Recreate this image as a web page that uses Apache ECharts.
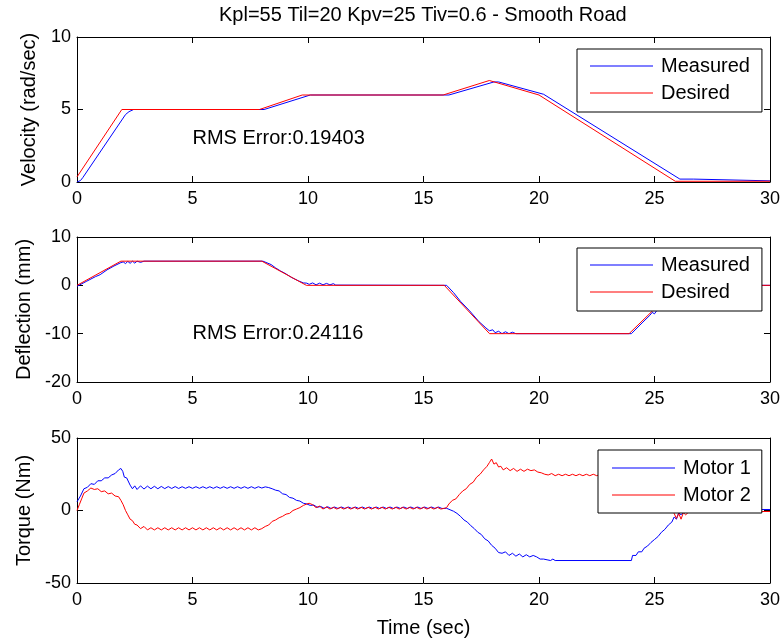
<!DOCTYPE html>
<html>
<head>
<meta charset="utf-8">
<script src="https://cdn.jsdelivr.net/npm/echarts@6/dist/echarts.min.js"></script>
<style>
  html, body { margin: 0; padding: 0; background: #fff; }
  #chart { width: 783px; height: 643px; }
</style>
</head>
<body>
<div id="chart"></div>
<script>
// ---- data: [time (s), value] ----
const velocityMeasured = [[0,0],[0.15,0.1],[0.25,0.3],[2.1,4.65],[2.25,4.85],[2.45,5],[8.1,5],[10.1,6],[16.1,6],[18.05,6.9],[18.25,6.9],[20.2,6.05],[26.1,0.2],[26.7,0.2],[26.75,0.08],[30,0.08]];
const velocityDesired = [[0,0.35],[1.94,5],[7.9,5],[9.75,6],[15.85,6],[17.85,7],[20,6.0],[25.9,0.05],[30,0.05]];

const deflectionMeasured = [[0,-0.2],[0.4,0.8],[0.8,1.8],[1.0,2.2],[1.3,3.2],[1.6,4.0],[1.9,4.7],[2.0,4.85],[2.1,4.5],[2.2,4.95],[2.3,4.55],[2.4,5],[2.5,4.6],[2.6,5],[2.75,4.75],[2.9,5],[8.05,5],[8.4,4.3],[8.6,3.6],[8.8,3.0],[9.0,2.5],[9.3,1.6],[9.6,0.9],[9.8,0.5],[9.95,0.45],[10.05,0.2],[10.2,0.5],[10.35,0.1],[10.5,0.45],[10.65,0.1],[10.8,0.4],[10.95,0.1],[11.1,0.35],[11.2,0.05],[16.0,0],[16.3,-1.5],[16.6,-3.3],[17.0,-5.3],[17.4,-7.5],[17.7,-8.8],[17.85,-9.4],[18.0,-9.2],[18.1,-9.8],[18.25,-9.5],[18.4,-10],[18.55,-9.6],[18.7,-10],[18.85,-9.7],[19.0,-10],[24.0,-10],[24.5,-7.6],[24.8,-6.2],[24.9,-5.6],[25.0,-5.9],[25.2,-4.5],[26.1,0],[30,0]];
const deflectionDesired = [[0,0],[1.9,5],[8.0,5],[9.93,0],[15.9,0],[17.86,-10],[23.9,-10],[26.05,0],[30,0]];

const torqueMotor1 = [[0,6],[0.15,10],[0.3,15],[0.45,16],[0.6,18.5],[0.75,18],[0.9,20.5],[1.05,20.5],[1.2,22.5],[1.35,22.5],[1.5,24.5],[1.65,25.5],[1.8,28],[1.9,29],[1.98,27],[2.05,23],[2.15,22.5],[2.3,17.5],[2.4,15],[2.5,17],
  [2.6,14.5],[2.75,17],[2.9,14.8],[3.05,16.8],[3.2,15],[3.35,16.7],[3.5,15],[3.65,16.6],[3.8,15.1],[3.95,16.5],[4.1,15.2],[4.25,16.5],[4.4,15.2],[4.55,16.4],[4.7,15.3],[4.85,16.4],[5.0,15.3],[5.15,16.4],[5.3,15.3],[5.45,16.4],[5.6,15.3],[5.75,16.4],[5.9,15.3],[6.05,16.4],[6.2,15.3],[6.35,16.4],[6.5,15.3],[6.65,16.4],[6.8,15.3],[6.95,16.4],[7.1,15.3],[7.25,16.4],[7.4,15.3],[7.55,16.4],[7.7,15.3],[7.85,16.4],[8.0,15.5],[8.15,16.3],[8.3,15.8],[8.45,15],
  [8.6,14],[8.75,13.5],[8.9,11.5],[9.05,11],[9.2,9],[9.35,8.5],[9.5,7],[9.65,6.5],[9.8,5],[9.95,4.5],[10.1,3.5],[10.25,3.8],[10.4,2.2],[10.55,2.8],[10.7,1.5],[10.85,2.6],
  [11.0,1.4],[11.15,2.4],[11.3,1.4],[11.45,2.4],[11.6,1.4],[11.75,2.4],[11.9,1.4],[12.05,2.4],[12.2,1.4],[12.35,2.4],[12.5,1.4],[12.65,2.4],[12.8,1.4],[12.95,2.4],[13.1,1.4],[13.25,2.4],[13.4,1.4],[13.55,2.4],[13.7,1.4],[13.85,2.4],[14.0,1.4],[14.15,2.4],[14.3,1.4],[14.45,2.4],[14.6,1.4],[14.75,2.4],[14.9,1.4],[15.05,2.4],[15.2,1.4],[15.35,2.4],[15.5,1.4],[15.65,2.4],[15.8,1.4],
  [16.0,1.5],[16.15,0.5],[16.3,-0.5],[16.45,-2],[16.6,-4],[16.75,-6.5],[16.9,-8],[17.05,-10.5],[17.2,-12.5],[17.35,-15],[17.5,-16.5],[17.65,-19.5],[17.8,-21],[17.95,-24],[18.1,-26],[18.25,-29],[18.4,-29.5],[18.55,-28.5],[18.7,-31],[18.85,-29.5],[19.0,-31.5],[19.15,-30],[19.3,-32],[19.45,-30.5],[19.6,-32],[19.75,-31],[19.9,-32],[20.05,-33.5],[20.2,-33.5],[20.35,-34],[20.5,-34.5],[20.6,-33.5],[20.7,-34.5],[24.0,-34.5],
  [24.05,-31],[24.2,-31],[24.3,-28.5],[24.45,-28.5],[24.55,-26],[24.7,-24.5],[24.85,-22],[25.0,-20],[25.15,-18],[25.3,-15],[25.45,-13],[25.6,-10],[25.75,-8],[25.85,-4.5],[25.95,-6],[26.05,-1.5],[26.15,-3],[26.3,-0.5],[26.5,0.7],[30,0.7]];

const torqueMotor2 = [[0,0],[0.1,4],[0.2,8],[0.3,12],[0.45,13.5],[0.6,15.5],[0.75,14.5],[0.9,15],[1.05,13],[1.2,13.5],[1.35,11.5],[1.5,12],[1.65,10],[1.8,9.5],[1.9,7],[2.0,4],[2.1,0],[2.2,-3],[2.3,-6],[2.4,-7],[2.5,-9.5],[2.6,-10],[2.75,-12.5],[2.9,-11],
  [3.05,-13.4],[3.2,-11.9],[3.35,-13.4],[3.5,-11.9],[3.65,-13.4],[3.8,-11.9],[3.95,-13.4],[4.1,-11.9],[4.25,-13.4],[4.4,-11.9],[4.55,-13.4],[4.7,-11.9],[4.85,-13.4],[5.0,-11.9],[5.15,-13.4],[5.3,-11.9],[5.45,-13.4],[5.6,-11.9],[5.75,-13.4],[5.9,-11.9],[6.05,-13.4],[6.2,-11.9],[6.35,-13.4],[6.5,-11.9],[6.65,-13.4],[6.8,-11.9],[6.95,-13.4],[7.1,-11.9],[7.25,-13.4],[7.4,-11.9],[7.55,-13.4],[7.7,-11.9],[7.85,-13.4],
  [8.0,-12.5],[8.15,-11],[8.3,-10],[8.45,-7.5],[8.6,-6.5],[8.75,-5],[8.9,-4],[9.05,-2.5],[9.2,-2],[9.35,0],[9.5,1],[9.65,2],[9.8,3.5],[9.95,4.5],[10.05,5],[10.2,4],[10.35,2],[10.5,3],[10.65,1],[10.8,2.5],
  [10.95,1.0],[11.1,2.2],[11.25,1.0],[11.4,2.2],[11.55,1.0],[11.7,2.2],[11.85,1.0],[12.0,2.2],[12.15,1.0],[12.3,2.2],[12.45,1.0],[12.6,2.2],[12.75,1.0],[12.9,2.2],[13.05,1.0],[13.2,2.2],[13.35,1.0],[13.5,2.2],[13.65,1.0],[13.8,2.2],[13.95,1.0],[14.1,2.2],[14.25,1.0],[14.4,2.2],[14.55,1.0],[14.7,2.2],[14.85,1.0],[15.0,2.2],[15.15,1.0],[15.3,2.2],[15.45,1.0],[15.6,2.2],[15.75,1.0],
  [15.9,1.5],[16.0,2],[16.1,4.5],[16.25,7],[16.4,8],[16.55,11],[16.7,13.5],[16.85,15],[17.0,18],[17.15,19.5],[17.3,23],[17.45,25],[17.6,28],[17.75,30.5],[17.85,33],[17.95,35.5],[18.05,32],[18.15,33],[18.25,30],[18.35,30.5],[18.45,28],[18.6,29.5],[18.75,27.5],[18.9,29],[19.05,27],[19.2,28.5],[19.35,27],[19.5,28.5],[19.65,27.5],[19.8,28],[19.95,26.5],[20.1,26],[20.25,25],[20.4,24.5],[20.55,25.5],
  [20.7,24.0],[20.85,25.0],[21.0,24.0],[21.15,25.0],[21.3,24.0],[21.45,25.0],[21.6,24.0],[21.75,25.0],[21.9,24.0],[22.05,25.0],[22.2,24.0],[22.35,25.0],[22.5,24.0],[22.65,25.0],[22.8,24.0],[22.95,25.0],[23.1,24.0],[23.25,25.0],[23.4,24.0],[23.55,25.0],[23.7,24.0],[23.85,25.0],
  [24.0,24.5],[24.15,25],[24.3,23],[24.5,21],[24.75,17],[25.0,13],[25.25,9],[25.5,5],[25.7,1.5],[25.85,-2],[25.95,-5.5],[26.05,-2],[26.15,-6],[26.25,-1.5],[26.35,-3],[26.5,-0.7],[30,-0.7]];

// RMS annotations: [time, value, text]
const velocityRms = [5, 3, 'RMS Error:0.19403'];
const deflectionRms = [5, -10, 'RMS Error:0.24116'];

// axis ranges and tick steps
const timeRange = [0, 30, 5];
const velocityRange = [0, 10, 5];
const deflectionRange = [-20, 10, 10];
const torqueRange = [-50, 50, 50];

const titleText = 'Kpl=55 Til=20 Kpv=25 Tiv=0.6 - Smooth Road';
const FONT = '"Liberation Sans", Arial, Helvetica, sans-serif';
const BLUE = '#0000ff';
const RED = '#ff0000';

const grids = [
  { left: 77, right: 12, top: 37, height: 145 },
  { left: 77, right: 12, top: 237, height: 145 },
  { left: 77, right: 12, top: 438, height: 145 }
];

function xAxes(gi, withName) {
  const common = {
    type: 'value', gridIndex: gi, min: timeRange[0], max: timeRange[1], interval: timeRange[2],
    axisLine: { show: true, onZero: false, lineStyle: { color: '#000', width: 1 } },
    axisTick: { show: true, inside: true, length: 6, lineStyle: { color: '#000' } },
    splitLine: { show: false }
  };
  return [
    Object.assign({}, common, {
      position: 'bottom',
      axisLabel: { show: true, color: '#000', fontFamily: FONT, fontSize: 18, margin: 8 },
      name: withName ? 'Time (sec)' : '',
      nameLocation: 'middle', nameGap: 35,
      nameTextStyle: { color: '#000', fontFamily: FONT, fontSize: 20 }
    }),
    Object.assign({}, common, { position: 'top', axisLabel: { show: false } })
  ];
}

function yAxes(gi, range, name) {
  const common = {
    type: 'value', gridIndex: gi, min: range[0], max: range[1], interval: range[2],
    axisLine: { show: true, onZero: false, lineStyle: { color: '#000', width: 1 } },
    axisTick: { show: true, inside: true, length: 6, lineStyle: { color: '#000' } },
    splitLine: { show: false }
  };
  return [
    Object.assign({}, common, {
      position: 'left',
      axisLabel: { show: true, color: '#000', fontFamily: FONT, fontSize: 18, margin: 6 },
      name: name, nameLocation: 'middle', nameGap: 38,
      nameTextStyle: { color: '#000', fontFamily: FONT, fontSize: 20 }
    }),
    Object.assign({}, common, { position: 'right', axisLabel: { show: false } })
  ];
}

function lineSeries(name, data, color, axisIdx) {
  return {
    name: name, type: 'line', data: data,
    xAxisIndex: axisIdx, yAxisIndex: axisIdx,
    symbol: 'none', showSymbol: false, animation: false,
    lineStyle: { color: color, width: 1 }, itemStyle: { color: color }
  };
}

function rmsSeries(note, axisIdx) {
  return {
    type: 'scatter', data: [[note[0], note[1]]],
    xAxisIndex: axisIdx, yAxisIndex: axisIdx,
    symbolSize: 0, silent: true, animation: false,
    itemStyle: { opacity: 1 },
    label: {
      show: true, position: [0, 0], align: 'left', verticalAlign: 'middle',
      formatter: note[2], color: '#000', opacity: 1, fontFamily: FONT, fontSize: 20
    }
  };
}

function legendBox(names, left, top, padding) {
  return {
    data: names, orient: 'vertical', left: left, top: top,
    padding: padding, icon: 'rect', itemWidth: 63, itemHeight: 1.2, itemGap: 7,
    selectedMode: false,
    backgroundColor: '#fff', borderColor: '#000', borderWidth: 1, borderRadius: 0,
    textStyle: { color: '#000', fontFamily: FONT, fontSize: 20, lineHeight: 20, padding: [0, 0, 0, 3] }
  };
}

const chart = echarts.init(document.getElementById('chart'), null, { renderer: 'canvas' });
chart.setOption({
  animation: false,
  backgroundColor: '#fff',
  grid: grids,
  xAxis: [].concat(xAxes(0, false), xAxes(1, false), xAxes(2, true)),
  yAxis: [].concat(
    yAxes(0, velocityRange, 'Velocity (rad/sec)'),
    yAxes(1, deflectionRange, 'Deflection (mm)'),
    yAxes(2, torqueRange, 'Torque (Nm)')
  ),
  legend: [
    legendBox(['Measured', 'Desired'], 577, 49, [7, 12, 9, 13]),
    legendBox(['Measured', 'Desired'], 577, 248, [7, 12, 9, 13]),
    legendBox(['Motor 1', 'Motor 2'], 598, 450, [8, 11, 8, 14])
  ],
  graphic: [{
    type: 'text', left: 424 - 205, top: 5,
    style: { text: titleText, fill: '#000', font: '20px ' + FONT }
  }],
  series: [
    lineSeries('Measured', velocityMeasured, BLUE, 0),
    lineSeries('Desired', velocityDesired, RED, 0),
    rmsSeries(velocityRms, 0),
    lineSeries('Measured', deflectionMeasured, BLUE, 2),
    lineSeries('Desired', deflectionDesired, RED, 2),
    rmsSeries(deflectionRms, 2),
    lineSeries('Motor 1', torqueMotor1, BLUE, 4),
    lineSeries('Motor 2', torqueMotor2, RED, 4)
  ]
});
</script>
</body>
</html>
